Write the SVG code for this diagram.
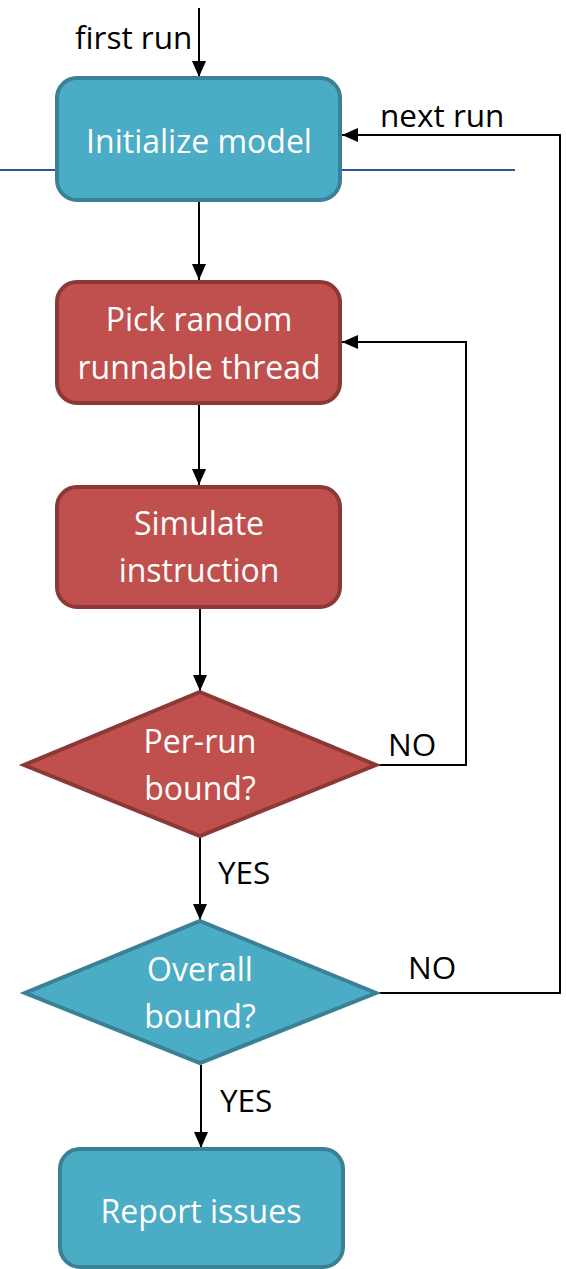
<svg xmlns="http://www.w3.org/2000/svg" width="566" height="1269" viewBox="0 0 566 1269">
<defs>
<marker id="ah" markerWidth="16" markerHeight="16" viewBox="0 0 16 16" refX="16" refY="8" orient="auto" markerUnits="userSpaceOnUse">
<path d="M0,1 L16,8 L0,15 Z" fill="#000"/>
</marker>
<style>
.blue{fill:#4bacc6;stroke:#3a8096;stroke-width:4}
.red{fill:#c0504d;stroke:#8c3836;stroke-width:4}
.t{font-family:"Open Sans","Liberation Sans",sans-serif;font-size:32px;fill:#fff;text-anchor:middle}
.l{font-family:"Open Sans","Liberation Sans",sans-serif;font-size:31.5px;fill:#000}
.c{fill:none;stroke:#000;stroke-width:2}
</style>
</defs>
<rect width="566" height="1269" fill="#fff"/>
<line x1="0" y1="170" x2="515" y2="170" stroke="#2f5597" stroke-width="2"/>
<g id="connectors">
<line class="c" x1="199" y1="8" x2="199" y2="77" marker-end="url(#ah)"/>
<line class="c" x1="199" y1="202" x2="199" y2="280" marker-end="url(#ah)"/>
<line class="c" x1="199" y1="405" x2="199" y2="485" marker-end="url(#ah)"/>
<line class="c" x1="200" y1="609" x2="200" y2="691" marker-end="url(#ah)"/>
<polyline class="c" points="378,765 466,765 466,342 342,342" marker-end="url(#ah)"/>
<line class="c" x1="200" y1="838" x2="200" y2="920" marker-end="url(#ah)"/>
<polyline class="c" points="378,993 560,993 560,135 342,135" marker-end="url(#ah)"/>
<line class="c" x1="201" y1="1065" x2="201" y2="1148" marker-end="url(#ah)"/>
<text class="l" x="75" y="49">first run</text>
<text class="l" x="380" y="127">next run</text>
<text class="l" x="388" y="756">NO</text>
<text class="l" x="218" y="884">YES</text>
<text class="l" x="408" y="979">NO</text>
<text class="l" x="220" y="1112">YES</text>
</g>
<g id="init">
<rect class="blue" x="57" y="78" width="283" height="122" rx="20"/>
<text class="t" x="199" y="153">Initialize model</text>
</g>
<g id="pick">
<rect class="red" x="57" y="282" width="283" height="121" rx="20"/>
<text class="t" x="199" y="331">Pick random</text>
<text class="t" x="199" y="379">runnable thread</text>
</g>
<g id="simulate">
<rect class="red" x="57" y="487" width="283" height="120" rx="20"/>
<text class="t" x="199" y="535">Simulate</text>
<text class="t" x="199" y="582">instruction</text>
</g>
<g id="perrun">
<polygon class="red" points="200,692 376,765 200,836 24,765"/>
<text class="t" x="200" y="753">Per-run</text>
<text class="t" x="200" y="800">bound?</text>
</g>
<g id="overall">
<polygon class="blue" points="200,921 376,993 200,1063 25,993"/>
<text class="t" x="200" y="981">Overall</text>
<text class="t" x="200" y="1028">bound?</text>
</g>
<g id="report">
<rect class="blue" x="60" y="1149" width="283" height="118" rx="20"/>
<text class="t" x="201" y="1223">Report issues</text>
</g>
</svg>
